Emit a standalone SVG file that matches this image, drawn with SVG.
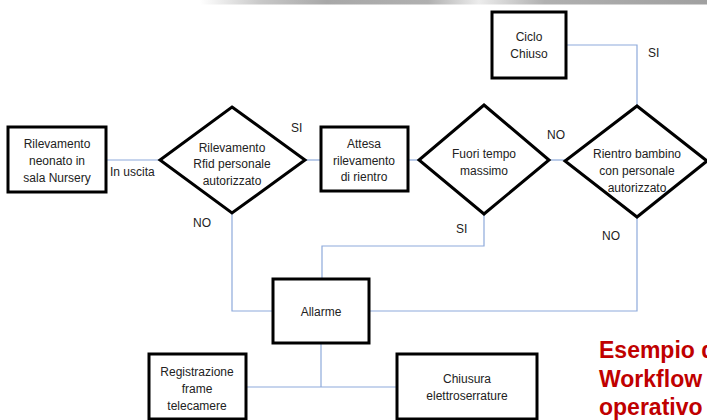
<svg xmlns="http://www.w3.org/2000/svg" width="707" height="420" viewBox="0 0 707 420">
<defs>
<linearGradient id="bar" x1="0" x2="1" y1="0" y2="0">
<stop offset="0" stop-color="#ffffff"/>
<stop offset="0.12" stop-color="#c8c8c8"/>
<stop offset="0.25" stop-color="#a8a8a8"/>
<stop offset="0.45" stop-color="#b0b0b0"/>
<stop offset="0.55" stop-color="#ececec"/>
<stop offset="0.68" stop-color="#b0b0b0"/>
<stop offset="1" stop-color="#a0a0a0"/>
</linearGradient>
</defs>
<style>
.box{fill:#fff;stroke:#000;stroke-width:3}
.dia{fill:#fff;stroke:#000;stroke-width:3;stroke-linejoin:miter}
.t{font-family:"Liberation Sans",Arial,sans-serif;font-size:12px;fill:#222;text-anchor:middle}
.l{font-family:"Liberation Sans",Arial,sans-serif;font-size:12px;fill:#222}
.c{fill:none;stroke:#8eaadb;stroke-width:1.2}
.red{font-family:"Liberation Sans",Arial,sans-serif;font-size:23px;font-weight:bold;fill:#c00000}
</style>
<rect x="0" y="0" width="707" height="420" fill="#fff"/>
<rect x="200" y="0" width="507" height="4.5" fill="url(#bar)"/>
<g id="connectors">
<path class="c" d="M106 160H160"/>
<path class="c" d="M305 160H321"/>
<path class="c" d="M408 160H419"/>
<path class="c" d="M549 160H565"/>
<path class="c" d="M566 45H637V106"/>
<path class="c" d="M232 213V311H273"/>
<path class="c" d="M484 214V246H322V279"/>
<path class="c" d="M637 217V311H369"/>
<path class="c" d="M321 343V387"/>
<path class="c" d="M246 387H397"/>
</g>
<g id="labels">
<text class="l" x="110" y="176">In uscita</text>
<text class="l" x="291" y="132">SI</text>
<text class="l" x="193" y="227">NO</text>
<text class="l" x="547" y="139">NO</text>
<text class="l" x="456" y="233">SI</text>
<text class="l" x="602" y="240">NO</text>
<text class="l" x="648" y="57">SI</text>
</g>
<g id="n1">
<rect class="box" x="8" y="127" width="98" height="65"/>
<text class="t" x="57" y="148">Rilevamento</text>
<text class="t" x="57" y="165">neonato in</text>
<text class="t" x="57" y="182">sala Nursery</text>
</g>
<g id="d1">
<polygon class="dia" points="232,107 305,160 232,213 160,160"/>
<text class="t" x="232" y="152">Rilevamento</text>
<text class="t" x="232" y="168">Rfid personale</text>
<text class="t" x="232" y="185">autorizzato</text>
</g>
<g id="n2">
<rect class="box" x="321" y="127" width="87" height="64"/>
<text class="t" x="364" y="148">Attesa</text>
<text class="t" x="364" y="165">rilevamento</text>
<text class="t" x="364" y="181">di rientro</text>
</g>
<g id="d2">
<polygon class="dia" points="484,105 549,160 484,214 419,160"/>
<text class="t" x="484" y="158">Fuori tempo</text>
<text class="t" x="484" y="175">massimo</text>
</g>
<g id="d3">
<polygon class="dia" points="637,106 707,161 637,217 565,161"/>
<text class="t" x="637" y="158">Rientro bambino</text>
<text class="t" x="637" y="175">con personale</text>
<text class="t" x="637" y="192">autorizzato</text>
</g>
<g id="n3">
<rect class="box" x="492" y="12" width="74" height="66"/>
<text class="t" x="529" y="41">Ciclo</text>
<text class="t" x="529" y="58">Chiuso</text>
</g>
<g id="n4">
<rect class="box" x="273" y="279" width="96" height="64"/>
<text class="t" x="321" y="316">Allarme</text>
</g>
<g id="n5">
<rect class="box" x="149" y="354" width="97" height="65"/>
<text class="t" x="197" y="376">Registrazione</text>
<text class="t" x="197" y="393">frame</text>
<text class="t" x="197" y="410">telecamere</text>
</g>
<g id="n6">
<rect class="box" x="397" y="354" width="140" height="65"/>
<text class="t" x="467" y="383">Chiusura</text>
<text class="t" x="467" y="400">elettroserrature</text>
</g>
<g id="title">
<text class="red" x="599" y="358">Esempio di</text>
<text class="red" x="599" y="387">Workflow</text>
<text class="red" x="599" y="415">operativo</text>
</g>
</svg>
